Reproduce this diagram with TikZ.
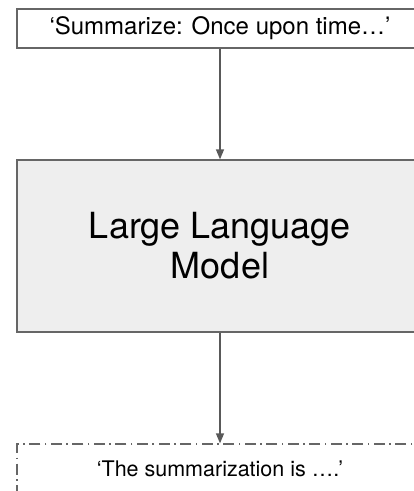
\documentclass[tikz,border=0pt]{standalone}
\usepackage{fontspec}
\setmainfont{TeX Gyre Heros}
\usetikzlibrary{arrows.meta}
\definecolor{edgegray}{HTML}{666666}
\definecolor{boxfill}{HTML}{EEEEEE}
\definecolor{arrowgray}{HTML}{595959}
\tikzset{
  box/.style={draw=edgegray, line width=1.3pt, minimum width=406pt, inner sep=0pt, align=center},
  conn/.style={draw=arrowgray, line width=1.3pt, -{Triangle[length=10pt,width=8pt]}},
}
\begin{document}
\begin{tikzpicture}[x=1pt,y=-1pt]
\useasboundingbox (0,0) rectangle (414,491);
\clip (0,0) rectangle (414,491);
\node[box, minimum height=39pt, font=\fontsize{24}{26}\selectfont] (inp) at (220,28.5) {‘Summarize: Once upon time…’};
\node[box, fill=boxfill, minimum height=172pt, font=\fontsize{36}{40}\selectfont] (llm) at (220,246) {Large Language\\Model};
\node[box, dash pattern=on 11pt off 4.5pt on 1.5pt off 4.5pt, minimum height=50pt, font=\fontsize{21.5}{24}\selectfont] (out) at (220,469) {‘The summarization is ….’};
\draw[conn] (inp.south) -- (llm.north);
\draw[conn] (llm.south) -- (out.north);
\end{tikzpicture}
\end{document}
